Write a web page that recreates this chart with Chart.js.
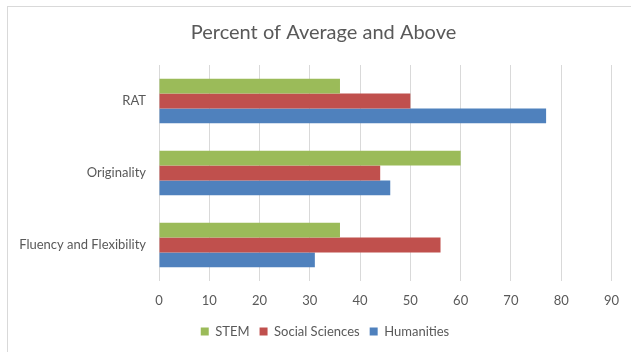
<!DOCTYPE html>
<html>
<head>
<meta charset="utf-8">
<script src="https://cdn.jsdelivr.net/npm/chart.js@4/dist/chart.umd.min.js"></script>
<style>
  html, body { margin: 0; padding: 0; background: #fff; overflow: hidden; }
  #wrap { position: absolute; left: 0; top: 0; width: 631px; height: 352px; }
  #frame { position: absolute; left: 7px; top: 6px; width: 640px; height: 360px; border: 1px solid #d9d9d9; box-sizing: border-box; pointer-events: none; }
</style>
</head>
<body>
<div id="wrap"><canvas id="c" width="631" height="352"></canvas></div>
<div id="frame"></div>
<script>
const categories = ["RAT", "Originality", "Fluency and Flexibility"];
const seriesNames = ["STEM", "Social Sciences", "Humanities"];
const stemValues = [36, 60, 36];
const socialValues = [50, 44, 56];
const humanitiesValues = [77, 46, 31];
const xTicks = [0, 10, 20, 30, 40, 50, 60, 70, 80, 90];

const textColor = "#595959";
const fontFamily = "Lato, 'Open Sans', sans-serif";

// shift title and legend centres to match the reference framing
const centreShift = {
  id: "centreShift",
  afterLayout(chart) {
    if (chart.titleBlock) chart.titleBlock.left += 35;
    if (chart.legend) chart.legend.left += 38;
  }
};

new Chart(document.getElementById("c"), {
  type: "bar",
  data: {
    labels: categories,
    datasets: [
      { label: seriesNames[0], data: stemValues, backgroundColor: "#9BBB59" },
      { label: seriesNames[1], data: socialValues, backgroundColor: "#C0504D" },
      { label: seriesNames[2], data: humanitiesValues, backgroundColor: "#4F81BD" }
    ]
  },
  plugins: [centreShift],
  options: {
    indexAxis: "y",
    responsive: false,
    animation: false,
    devicePixelRatio: 1,
    layout: { padding: { left: 0, right: 19, top: 0, bottom: 4 } },
    datasets: { bar: { categoryPercentage: 0.62, barPercentage: 1.0, borderWidth: 0 } },
    plugins: {
      title: {
        display: true,
        text: "Percent of Average and Above",
        color: textColor,
        font: { family: fontFamily, size: 20, weight: "normal" },
        padding: { top: 21, bottom: 20 }
      },
      legend: {
        position: "bottom",
        labels: {
          color: textColor,
          font: { family: fontFamily, size: 13 },
          boxWidth: 8,
          boxHeight: 8,
          padding: 10
        }
      },
      tooltip: { enabled: false }
    },
    scales: {
      x: {
        min: 0,
        max: 90,
        afterBuildTicks: (axis) => { axis.ticks = xTicks.map(v => ({ value: v })); },
        afterFit: (axis) => { axis.height = 34; },
        grid: { color: "#d9d9d9", drawTicks: false },
        border: { display: false },
        ticks: { color: textColor, font: { family: fontFamily, size: 13 }, padding: 12 }
      },
      y: {
        afterFit: (axis) => { axis.width = 159; },
        grid: { display: false, drawTicks: false },
        border: { display: false },
        ticks: { color: textColor, font: { family: fontFamily, size: 13 }, padding: 13 }
      }
    }
  }
});
</script>
</body>
</html>
